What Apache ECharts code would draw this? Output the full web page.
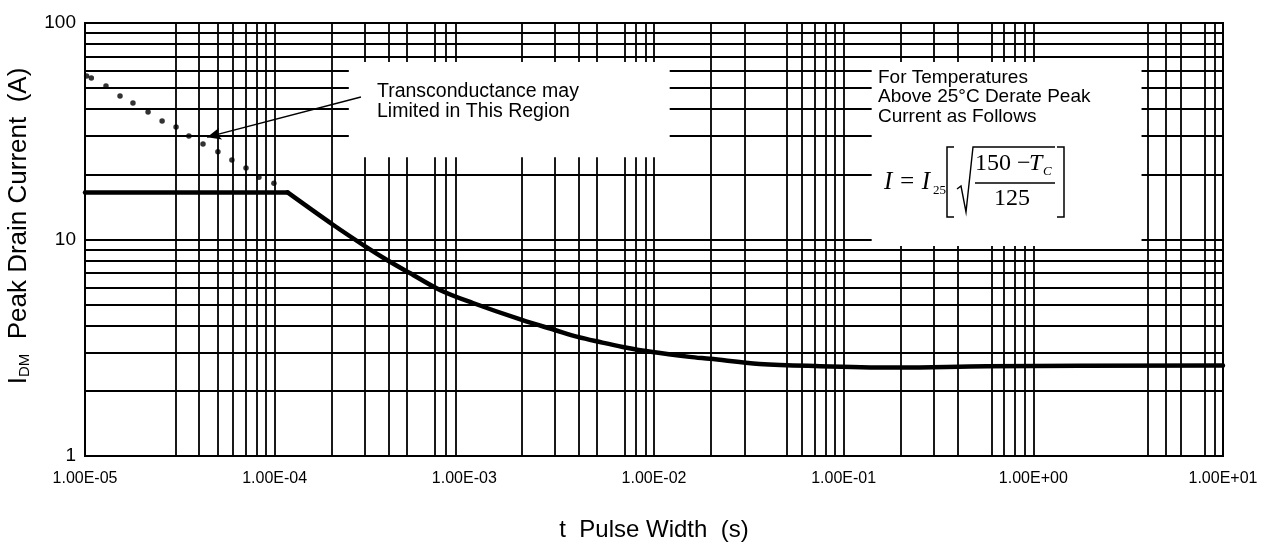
<!DOCTYPE html>
<html>
<head>
<meta charset="utf-8">
<title>Peak Drain Current vs Pulse Width</title>
<script src="https://cdn.jsdelivr.net/npm/echarts@6/dist/echarts.min.js"></script>
<style>
  html, body { margin: 0; padding: 0; background: #fff; }
  #chart { width: 1266px; height: 545px; }
</style>
</head>
<body>
<div id="chart"></div>
<script>
// pulse width (s) / peak drain current (A)
var pulseWidth  = [1e-5, 1.17e-4, 2.03e-4, 3.06e-4, 3.95e-4, 5.16e-4, 7.43e-4, 1.11e-3, 2.01e-3, 3.0e-3, 3.96e-3, 5.18e-3, 6.84e-3, 9.84e-3, 1.54e-2, 1.97e-2, 3.6e-2, 7.5e-2, 0.197, 0.568, 10];
var peakCurrent = [16.5, 16.5, 11.7, 9.2, 8.0, 7.0, 5.85, 5.09, 4.25, 3.82, 3.55, 3.36, 3.19, 3.02, 2.87, 2.81, 2.66, 2.6, 2.56, 2.6, 2.62];

// dotted "transconductance limited" points
var dotWidth   = [1.02e-5, 1.08e-5, 1.29e-5, 1.53e-5, 1.79e-5, 2.15e-5, 2.55e-5, 3.02e-5, 3.53e-5, 4.19e-5, 5.02e-5, 5.95e-5, 7.06e-5, 8.26e-5, 9.91e-5];
var dotCurrent = [56.9, 55.7, 51.2, 46.0, 42.7, 38.8, 35.3, 33.1, 30.1, 27.6, 25.4, 23.3, 21.4, 19.4, 18.2];

// grid lines as they appear on the printed sheet (some are missing)
var xGridLines = [3e-5, 4e-5, 5e-5, 6e-5, 7e-5, 8e-5, 9e-5, 1e-4,
                  2e-4, 3e-4, 4e-4, 5e-4, 7e-4, 8e-4, 9e-4,
                  2e-3, 3e-3, 4e-3, 5e-3, 7e-3, 8e-3, 9e-3, 1e-2,
                  2e-2, 3e-2, 5e-2, 6e-2, 7e-2, 8e-2, 9e-2, 1e-1,
                  0.2, 0.3, 0.4, 0.6, 0.7, 0.8, 0.9, 1,
                  4, 5, 6, 8, 9];
var yGridLines = [2, 3, 4, 5, 6, 7, 8, 9, 10, 20, 30, 40, 50, 60, 70, 80, 90];

var xTickLabels = ['1.00E-05', '1.00E-04', '1.00E-03', '1.00E-02', '1.00E-01', '1.00E+00', '1.00E+01'];
var yTickLabels = ['1', '10', '100'];

var chart = echarts.init(document.getElementById('chart'));

var gridMarks = xGridLines.map(function (v) { return { xAxis: v }; })
  .concat(yGridLines.map(function (v) { return { yAxis: v }; }));

// flat part and the falling part are drawn apart so the knee stays sharp
var curvePts = pulseWidth.map(function (t, i) { return [t, peakCurrent[i]]; });

var sans = 'Liberation Sans, Arial, sans-serif';
var serif = 'Liberation Serif, Times New Roman, serif';

var option = {
  animation: false,
  backgroundColor: '#fff',
  grid: {
    left: 85, right: 43, top: 23, bottom: 89,
    show: true, borderColor: '#000', borderWidth: 2,
    outerBoundsMode: 'none'
  },
  xAxis: {
    type: 'log', logBase: 10, min: 1e-5, max: 10,
    name: 't  Pulse Width  (s)',
    nameLocation: 'middle', nameGap: 62,
    nameTextStyle: { fontFamily: sans, fontSize: 24, color: '#000' },
    axisLine: { show: false },
    axisTick: { show: false },
    splitLine: { show: false },
    minorSplitLine: { show: false },
    axisLabel: {
      margin: 15, fontFamily: sans, fontSize: 16, color: '#000',
      showMinLabel: true, showMaxLabel: true,
      formatter: function (v) {
        return xTickLabels[Math.round(Math.log10(v)) + 5] || '';
      }
    }
  },
  yAxis: {
    type: 'log', logBase: 10, min: 1, max: 100,
    name: '{a|I}{b|DM}{a|  Peak Drain Current  (A)}',
    nameLocation: 'middle', nameGap: 53,
    nameTextStyle: {
      color: '#000',
      padding: [0, 0, 0, 27],
      rich: {
        a: { fontFamily: sans, fontSize: 26, color: '#000', verticalAlign: 'bottom' },
        b: { fontFamily: sans, fontSize: 15, color: '#000', verticalAlign: 'bottom' }
      }
    },
    axisLine: { show: false },
    axisTick: { show: false },
    splitLine: { show: false },
    minorSplitLine: { show: false },
    axisLabel: {
      margin: 9, fontFamily: sans, fontSize: 19, color: '#000',
      showMinLabel: true, showMaxLabel: true,
      formatter: function (v) {
        return yTickLabels[Math.round(Math.log10(v))] || '';
      }
    }
  },
  series: [
    {
      // printed grid
      type: 'line', data: [], silent: true,
      markLine: {
        z: 1, precision: 20,
        silent: true, symbol: 'none', label: { show: false },
        emphasis: { disabled: true },
        lineStyle: { color: '#000', width: 1.8, type: 'solid' },
        data: gridMarks
      }
    },
    {
      // white boxes behind the notes
      type: 'line', data: [], silent: true,
      markArea: {
        z: 3, silent: true,
        itemStyle: { color: '#fff', opacity: 1, borderWidth: 0 },
        emphasis: { disabled: true },
        data: [
          [{ coord: [2.46e-4, 66] }, { coord: [1.21e-2, 24] }],
          [{ coord: [0.1405, 66] }, { coord: [3.72, 9.33] }]
        ]
      }
    },
    {
      type: 'line',
      data: curvePts.slice(0, 2),
      showSymbol: false, z: 5, silent: true,
      lineStyle: { color: '#000', width: 4.5, cap: 'round', join: 'round' },
      markLine: {
        z: 6, precision: 20,
        silent: true, symbol: ['none', 'arrow'], symbolSize: [9, 14],
        label: { show: false },
        lineStyle: { color: '#000', width: 1.4, type: 'solid' },
        data: [[{ coord: [2.85e-4, 45.5] }, { coord: [4.4e-5, 29.7] }]]
      }
    },
    {
      type: 'line',
      data: curvePts.slice(1),
      smooth: 0.35,
      showSymbol: false, z: 5, silent: true,
      lineStyle: { color: '#000', width: 4.5, cap: 'round', join: 'round' }
    },
    {
      type: 'scatter',
      data: dotWidth.map(function (t, i) { return [t, dotCurrent[i]]; }),
      symbolSize: 5.5, z: 5, silent: true,
      itemStyle: { color: '#000' }
    }
  ],
  graphic: [
    {
      type: 'text', left: 377, top: 82, z: 100, silent: true,
      style: {
        text: 'Transconductance may\nLimited in This Region',
        font: '19.5px ' + sans, lineHeight: 20, fill: '#000'
      }
    },
    {
      type: 'text', left: 878, top: 68, z: 100, silent: true,
      style: {
        text: 'For Temperatures\nAbove 25\u00b0C Derate Peak\nCurrent as Follows',
        font: '19px ' + sans, lineHeight: 19.5, fill: '#000'
      }
    },
    // derating formula
    { type: 'text', x: 884, y: 182, z: 100, silent: true,
      style: { text: 'I = I', font: 'italic 25px ' + serif, fill: '#000', verticalAlign: 'middle' } },
    { type: 'text', x: 933, y: 191, z: 100, silent: true,
      style: { text: '25', font: '13px ' + serif, fill: '#000', verticalAlign: 'middle' } },
    { type: 'polyline', z: 100, silent: true,
      shape: { points: [[954, 147], [947, 147], [947, 217], [954, 217]] },
      style: { stroke: '#000', lineWidth: 1.5, fill: null } },
    { type: 'polyline', z: 100, silent: true,
      shape: { points: [[957, 189], [961, 186], [966, 212], [973, 147], [1055, 147]] },
      style: { stroke: '#000', lineWidth: 1.4, fill: null } },
    { type: 'text', x: 975, y: 164, z: 100, silent: true,
      style: { text: '150 \u2212 ', font: '24px ' + serif, fill: '#000', verticalAlign: 'middle' } },
    { type: 'text', x: 1029, y: 164, z: 100, silent: true,
      style: { text: 'T', font: 'italic 24px ' + serif, fill: '#000', verticalAlign: 'middle' } },
    { type: 'text', x: 1043, y: 172, z: 100, silent: true,
      style: { text: 'C', font: 'italic 13px ' + serif, fill: '#000', verticalAlign: 'middle' } },
    { type: 'line', z: 100, silent: true,
      shape: { x1: 975, y1: 183, x2: 1055, y2: 183 },
      style: { stroke: '#000', lineWidth: 1.3 } },
    { type: 'text', x: 1012, y: 199, z: 100, silent: true,
      style: { text: '125', font: '24px ' + serif, fill: '#000', align: 'center', verticalAlign: 'middle' } },
    { type: 'polyline', z: 100, silent: true,
      shape: { points: [[1057, 147], [1064, 147], [1064, 217], [1057, 217]] },
      style: { stroke: '#000', lineWidth: 1.5, fill: null } }
  ]
};

chart.setOption(option);
</script>
</body>
</html>
